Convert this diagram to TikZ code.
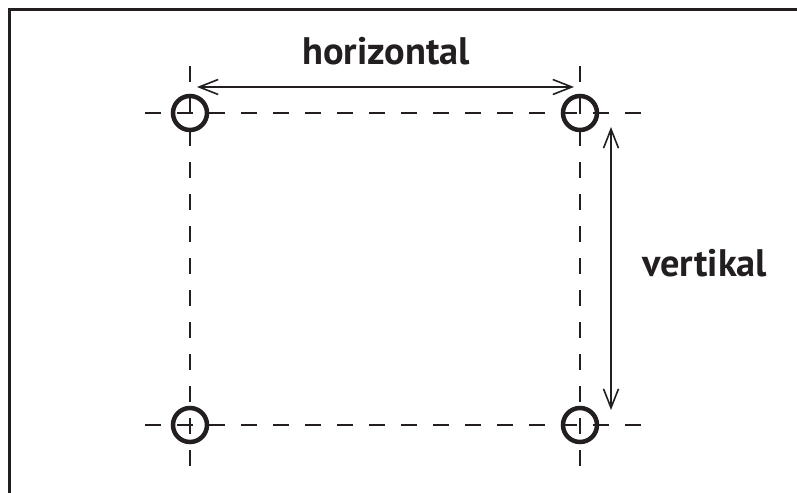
\documentclass[tikz,border=0pt]{standalone}
\usepackage{fontspec}
\newfontfamily\labelfont{PT Sans}
\usetikzlibrary{arrows.meta}
\definecolor{inkblack}{RGB}{35,31,32}

\begin{document}
\begin{tikzpicture}[x=1bp,y=-1bp,
                    >={Straight Barb[length=19bp,width=15bp]}]
  \tikzstyle{frame}=[draw=inkblack,line width=2.5bp]
  \tikzstyle{guide}=[draw=inkblack,line width=2.5bp,dash pattern=on 16bp off 16bp]
  \tikzstyle{hole}=[circle,draw=inkblack,line width=4.5bp,minimum size=34bp,inner sep=0pt]
  \tikzstyle{measure}=[<->,draw=inkblack,line width=1.6bp]
  \tikzstyle{caption}=[font=\labelfont\bfseries\fontsize{38.5}{42}\selectfont,
                       text=inkblack,inner sep=0pt]

  \useasboundingbox (0,0) rectangle (797,493);
  \draw[frame] (9.5,493) |- (797,9.5);

  % hole centres
  \coordinate (tl) at (190,113);
  \coordinate (tr) at (580,113);
  \coordinate (bl) at (190,425);
  \coordinate (br) at (580,425);

  % dashed guide lines
  \draw[guide] ([xshift=-45bp]tl) -- ([xshift=61bp]tr);
  \draw[guide] ([xshift=-45bp]bl) -- ([xshift=61bp]br);
  \draw[guide] ([yshift=47bp]tl) -- ([yshift=-41bp]bl);
  \draw[guide] ([yshift=47bp]tr) -- ([yshift=-41bp]br);

  \node[hole] (tl hole) at (tl) {};
  \node[hole] (tr hole) at (tr) {};
  \node[hole] (bl hole) at (bl) {};
  \node[hole] (br hole) at (br) {};

  % measures
  \coordinate (h start) at (197,87);
  \coordinate (h end)   at (574,87);
  \coordinate (v start) at (611,127);
  \coordinate (v end)   at (611,410);
  \draw[measure] (h start) -- (h end);
  \draw[measure] (v start) -- (v end);

  \node[caption,anchor=base] (h label) at (386,65) {horizontal};
  \node[caption,anchor=base west] (v label) at (642,277) {vertikal};
\end{tikzpicture}
\end{document}
